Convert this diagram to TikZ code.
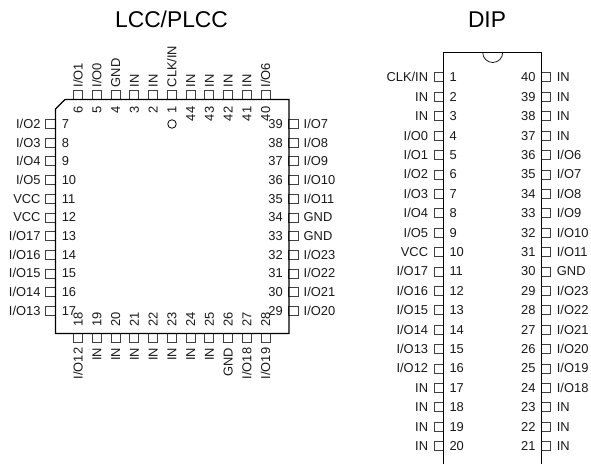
\documentclass[tikz,border=0pt]{standalone}
\usepackage{fontspec}
\setmainfont{Liberation Sans}
\tikzset{
  pinpad/.style={draw=black!75,line width=0.7pt,rectangle,inner sep=0pt,minimum width=#1},
  pinhoriz/.style={pinpad=9.5pt,minimum height=9pt},
  pinvert/.style={pinpad=9pt,minimum height=9pt},
  lbl/.style={inner sep=0pt,text height=9pt,text depth=0pt,font=\fontsize{12.9}{14}\selectfont,text=black!90},
  titlelbl/.style={inner sep=0pt,font=\fontsize{22.8}{26}\selectfont,text=black},
  body/.style={draw=black,line width=1.1pt}
}
\begin{document}
\begin{tikzpicture}[x=1pt,y=-1pt]
\useasboundingbox (0,0) rectangle (591,464);
\node[titlelbl] (t1) at (171.5,19.5) {LCC/PLCC};
\node[titlelbl] (t2) at (487,19.5) {DIP};
% LCC top
\foreach \n/\l [count=\i from 0] in {6/{I/O1},5/{I/O0},4/{GND},3/{IN},2/{IN},1/{CLK/IN},44/{IN},43/{IN},42/{IN},41/{IN},40/{I/O6}}{
  \pgfmathsetmacro\xx{78+18.75*\i}
  \node[pinvert] (lp\n) at (\xx,95) {};
  \node[lbl,rotate=90,anchor=west] (ll\n) at (\xx,87.5) {\l};
  \node[lbl,rotate=90,anchor=east] (ln\n) at (\xx,106.5) {\n};
}
% LCC bottom
\foreach \n/\l [count=\i from 0] in {18/{I/O12},19/{IN},20/{IN},21/{IN},22/{IN},23/{IN},24/{IN},25/{IN},26/{GND},27/{I/O18},28/{I/O19}}{
  \pgfmathsetmacro\xx{78+18.75*\i}
  \node[pinvert] (lp\n) at (\xx,338) {};
  \node[lbl,rotate=90,anchor=east] (ll\n) at (\xx,347.5) {\l};
  \node[lbl,rotate=90,anchor=west] (ln\n) at (\xx,327) {\n};
}
% LCC left
\foreach \n/\l [count=\i from 0] in {7/{I/O2},8/{I/O3},9/{I/O4},10/{I/O5},11/{VCC},12/{VCC},13/{I/O17},14/{I/O16},15/{I/O15},16/{I/O14},17/{I/O13}}{
  \pgfmathsetmacro\yy{124+18.67*\i}
  \node[pinhoriz] (lp\n) at (50.5,\yy) {};
  \node[lbl,anchor=east] (ll\n) at (40.7,\yy) {\l};
  \node[lbl,anchor=west] (ln\n) at (61.6,\yy) {\n};
}
% LCC right
\foreach \n/\l [count=\i from 0] in {39/{I/O7},38/{I/O8},37/{I/O9},36/{I/O10},35/{I/O11},34/{GND},33/{GND},32/{I/O23},31/{I/O22},30/{I/O21},29/{I/O20}}{
  \pgfmathsetmacro\yy{124+18.67*\i}
  \node[pinhoriz] (lp\n) at (293.5,\yy) {};
  \node[lbl,anchor=west] (ll\n) at (303.5,\yy) {\l};
  \node[lbl,anchor=east] (ln\n) at (283,\yy) {\n};
}
\draw[body] (55.5,109) -- (65,99.5) -- (289,99.5) -- (289,333.5) -- (55.5,333.5) -- cycle;
\node[draw=black,line width=0.8pt,circle,inner sep=0pt,minimum size=8.5pt] (dot) at (172,124) {};
% DIP left
\foreach \n/\l [count=\i from 0] in {1/{CLK/IN},2/{IN},3/{IN},4/{I/O0},5/{I/O1},6/{I/O2},7/{I/O3},8/{I/O4},9/{I/O5},10/{VCC},11/{I/O17},12/{I/O16},13/{I/O15},14/{I/O14},15/{I/O13},16/{I/O12},17/{IN},18/{IN},19/{IN},20/{IN}}{
  \pgfmathsetmacro\yy{77.3+19.41*\i}
  \node[pinhoriz] (dp\n) at (438.8,\yy) {};
  \node[lbl,anchor=east] (dl\n) at (428.3,\yy) {\l};
  \node[lbl,anchor=west] (dn\n) at (449.3,\yy) {\n};
}
% DIP right
\foreach \n/\l [count=\i from 0] in {40/{IN},39/{IN},38/{IN},37/{IN},36/{I/O6},35/{I/O7},34/{I/O8},33/{I/O9},32/{I/O10},31/{I/O11},30/{GND},29/{I/O23},28/{I/O22},27/{I/O21},26/{I/O20},25/{I/O19},24/{I/O18},23/{IN},22/{IN},21/{IN}}{
  \pgfmathsetmacro\yy{77.3+19.41*\i}
  \node[pinhoriz] (dp\n) at (546,\yy) {};
  \node[lbl,anchor=west] (dl\n) at (556.7,\yy) {\l};
  \node[lbl,anchor=east] (dn\n) at (535.7,\yy) {\n};
}
\draw[body] (443.5,464) -- (443.5,52.5) -- (541.3,52.5) -- (541.3,464);
\draw[draw=black,line width=0.7pt] (482.7,52.5) arc[start angle=180,end angle=360,radius=10pt];
\end{tikzpicture}
\end{document}
